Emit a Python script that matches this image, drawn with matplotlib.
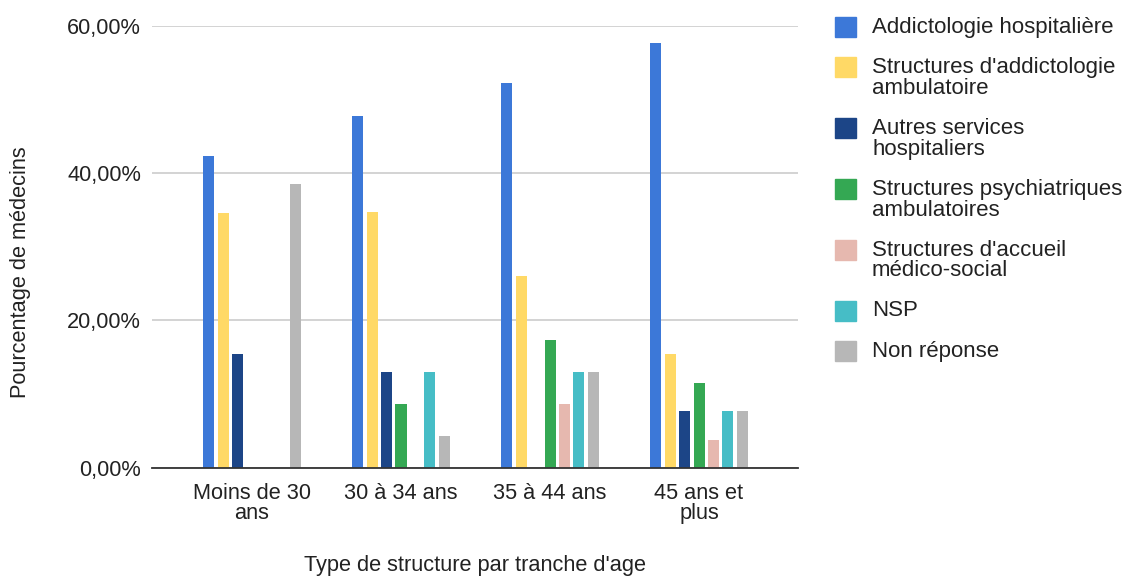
import matplotlib.pyplot as plt
from matplotlib.patches import Rectangle
from matplotlib.ticker import FuncFormatter
import numpy as np

plt.rcParams["font.family"] = ["Liberation Sans", "DejaVu Sans"]

age_groups = ["Moins de 30\nans", "30 à 34 ans", "35 à 44 ans", "45 ans et\nplus"]
series_names = [
    "Addictologie hospitalière",
    "Structures d'addictologie\nambulatoire",
    "Autres services\nhospitaliers",
    "Structures psychiatriques\nambulatoires",
    "Structures d'accueil\nmédico-social",
    "NSP",
    "Non réponse",
]
series_colors = ["#3c78d8", "#ffd966", "#1c4587", "#34a853", "#e6b8af", "#46bdc6", "#b7b7b7"]

addicto_hosp = [42.3, 47.8, 52.2, 57.7]
addicto_ambu = [34.6, 34.8, 26.1, 15.4]
autres_hosp = [15.4, 13.0, 0.0, 7.7]
psy_ambu = [0.0, 8.7, 17.4, 11.5]
medico_social = [0.0, 0.0, 8.7, 3.8]
nsp = [0.0, 13.0, 13.0, 7.7]
non_reponse = [38.5, 4.3, 13.0, 7.7]

values = [addicto_hosp, addicto_ambu, autres_hosp, psy_ambu, medico_social, nsp, non_reponse]

W, H = 1128, 577
fig = plt.figure(figsize=(W / 100, H / 100), dpi=100)
ax = fig.add_axes([152 / W, (H - 467.7) / H, (798 - 152) / W, (467.7 - 26) / H])

x = np.arange(len(age_groups))
step = 0.0966
width = 0.074
for i, (vals, color) in enumerate(zip(values, series_colors)):
    ax.bar(x + (i - 3) * step, vals, width=width, color=color, zorder=3)

ax.set_xlim(-0.671, 3.664)
ax.set_ylim(0, 60)
ax.set_yticks([0, 20, 40, 60])
ax.yaxis.set_major_formatter(FuncFormatter(lambda v, p: f"{v:.2f}%".replace(".", ",")))
ax.set_xticks(x)
ax.set_xticklabels(age_groups, fontsize=15.7, color="#222222", linespacing=0.95)
ax.tick_params(axis="y", labelsize=15.7, labelcolor="#222222", length=0, pad=8)
ax.tick_params(axis="x", length=0, pad=11)
ax.grid(axis="y", color="#cccccc", linewidth=1.2, zorder=0)
for s in ["top", "right", "left"]:
    ax.spines[s].set_visible(False)
ax.spines["bottom"].set_color("#333333")
ax.spines["bottom"].set_linewidth(1.3)
ax.spines["bottom"].set_zorder(4)

fig.text(475 / W, 1 - 565 / H, "Type de structure par tranche d'age", fontsize=15.7,
         color="#222222", ha="center", va="center")
fig.text(21 / W, 1 - 272 / H, "Pourcentage de médecins", fontsize=15.7, color="#222222",
         rotation=90, ha="center", va="center")

# legend drawn by hand so the swatch lines up with the first text line
y_c = 27
for name, color in zip(series_names, series_colors):
    fig.patches.append(Rectangle((835 / W, 1 - (y_c + 10) / H), 21 / W, 20 / H,
                                 transform=fig.transFigure, color=color))
    lines = name.split("\n")
    for k, line in enumerate(lines):
        fig.text(872 / W, 1 - (y_c + k * 21) / H, line, fontsize=16, color="#222222",
                 ha="left", va="center")
    y_c += 40 + 21 * (len(lines) - 1)

fig.savefig("out.png", dpi=100)
